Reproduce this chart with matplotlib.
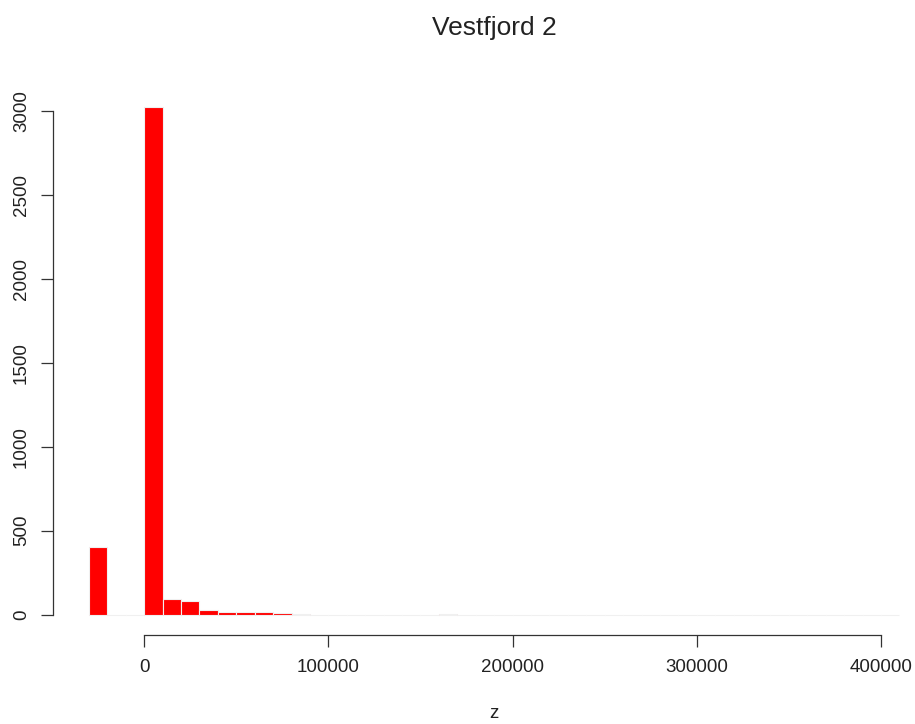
import numpy as np
import matplotlib
matplotlib.use("Agg")
import matplotlib.pyplot as plt

plt.rcParams['font.family'] = ['Liberation Sans', 'DejaVu Sans']

title = "Vestfjord 2"
x_label = "z"

# histogram bins: width 10000, starting at -30000
bin_width = 10000
bin_start = -30000
counts = [400, 0, 0, 3020, 95, 79, 30, 16, 16, 16,
          8, 3, 1, 1, 0, 0, 1, 0, 0, 2,
          0, 1, 0, 1, 0, 1, 0, 0, 1, 0,
          0, 0, 0, 0, 0, 0, 1, 0, 0, 0,
          0, 0, 0, 0]
x_ticks = [0, 100000, 200000, 300000, 400000]
y_ticks = [0, 500, 1000, 1500, 2000, 2500, 3000]

W, H = 915, 724
fig = plt.figure(figsize=(W / 100, H / 100), dpi=100)
left_px, right_px, top_px, bottom_px = 53, 974, 87, 635
ax = fig.add_axes([left_px / W, 1 - bottom_px / H,
                   (right_px - left_px) / W, (bottom_px - top_px) / H])

lefts = bin_start + bin_width * np.arange(len(counts))
ax.bar(lefts, counts, width=bin_width, align='edge', color='#ff0000',
       edgecolor='#f0f0f0', linewidth=0.8)

ymax = max(counts)
ax.set_xlim(-49500, 450500)
ax.set_ylim(-0.04 * ymax, 1.04 * ymax)

for s in ['top', 'right']:
    ax.spines[s].set_visible(False)
ax.spines['left'].set_bounds(y_ticks[0], y_ticks[-1])
ax.spines['bottom'].set_bounds(x_ticks[0], x_ticks[-1])
for s in ['left', 'bottom']:
    ax.spines[s].set_color('#333333')
    ax.spines[s].set_linewidth(0.9)

ax.set_xticks(x_ticks)
ax.set_xticklabels([str(v) for v in x_ticks])
ax.set_yticks(y_ticks)
ax.set_yticklabels([str(v) for v in y_ticks], rotation=90, va='center')
ax.tick_params(axis='both', length=8.5, width=0.9, color='#333333',
               labelsize=13.5, labelcolor='#222222')
ax.tick_params(axis='x', pad=9)
ax.tick_params(axis='y', pad=8)

fig.text(494 / W, 1 - 28 / H, title, ha='center', va='center',
         fontsize=19, color='#222222')
fig.text(494 / W, 1 - 714 / H, x_label, ha='center', va='center',
         fontsize=13.5, color='#222222')

fig.savefig("out.png", dpi=100)
